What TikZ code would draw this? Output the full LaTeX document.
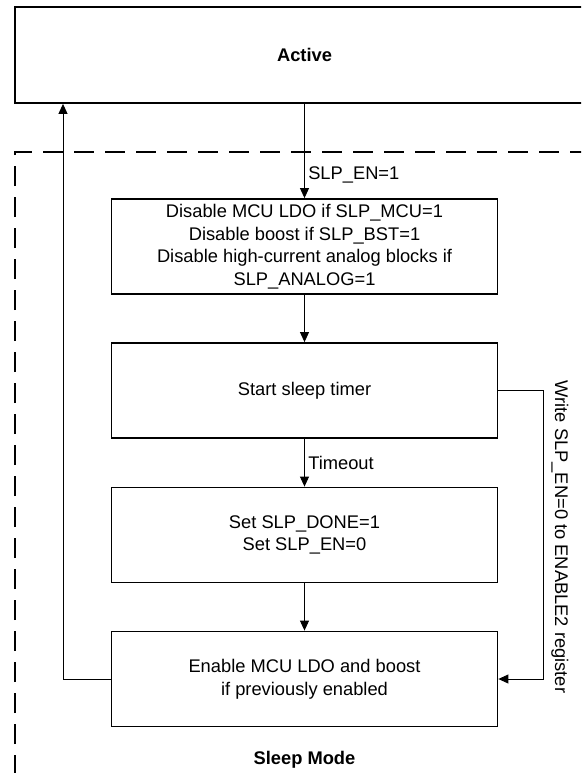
\documentclass[tikz,border=0pt]{standalone}
\usepackage{fontspec}
\setmainfont{Liberation Sans}
\usetikzlibrary{arrows.meta}
\tikzset{
    stepbox/.style={draw, line width=1.8pt, minimum width=386pt, minimum height=95pt, align=center, inner sep=0pt},
    flow/.style={line width=0.9pt, -{Triangle[length=10pt,width=9pt]}},
}
\begin{document}
\begin{tikzpicture}[x=1pt, y=-1pt, font=\fontsize{18.3}{22.6}\selectfont]
    \useasboundingbox (0,0) rectangle (581,773);
    \clip (0,0) rectangle (581,773);
    % active state
    \node[draw, line width=1.8pt, minimum width=579pt, minimum height=96pt] (active) at (304.5,55) {\bfseries Active};
    % sleep mode region
    \draw[line width=2pt, dash pattern=on 20pt off 11pt, dash phase=6pt] (15,800) -- (15,152) -- (600,152);
    \node (sleeplbl) at (304.5,760) {\bfseries Sleep Mode};
    % steps
    \node[stepbox] (disable) at (304.5,246.5) {Disable MCU LDO if SLP\_MCU=1\\Disable boost if SLP\_BST=1\\Disable high-current analog blocks if\\SLP\_ANALOG=1};
    \node[stepbox] (timer) at (304.5,390.5) {Start sleep timer};
    \node[stepbox] (done) at (304.5,535) {Set SLP\_DONE=1\\Set SLP\_EN=0};
    \node[stepbox] (enable) at (304.5,679) {Enable MCU LDO and boost\\if previously enabled};
    % arrows
    \draw[flow] (active) -- node[pos=0.75, right] (slplbl) {SLP\_EN=1} (disable);
    \draw[flow] (timer) -- node[pos=0.5, right] (timeoutlbl) {Timeout} (done);
    \foreach \a/\b in {disable/timer, done/enable} {
        \draw[flow] (\a) -- (\b);
    }
    % way back to active
    \coordinate (retleft) at (63,679);
    \draw[flow] (enable.west) -- (retleft) -- (retleft |- active.south);
    % early wake-up
    \coordinate (retright) at (543,390.5);
    \draw[flow] (timer.east) -- (retright) |- (enable.east);
    \node[rotate=-90, anchor=base] (writelbl) at (555,537) {Write SLP\_EN=0 to ENABLE2 register};
\end{tikzpicture}
\end{document}
